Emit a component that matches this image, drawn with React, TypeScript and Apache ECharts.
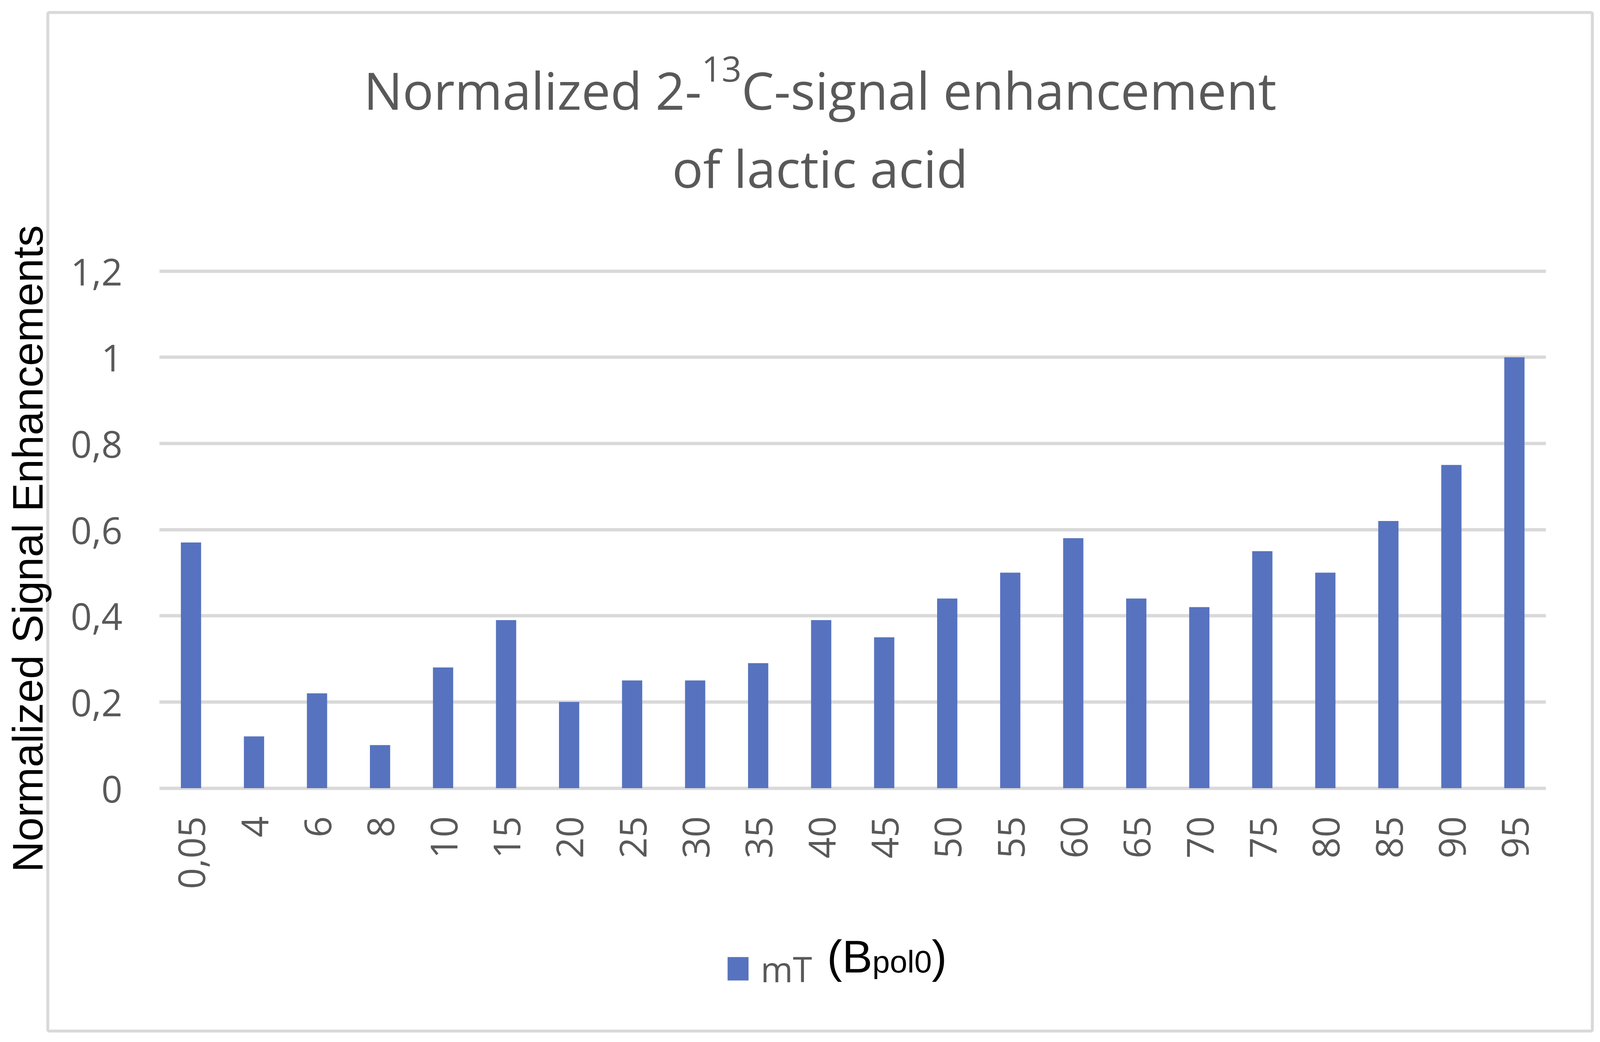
import React, { useEffect, useRef } from 'react';
import * as echarts from 'echarts';

// ---- data ----
const categories = ['0,05', '4', '6', '8', '10', '15', '20', '25', '30', '35', '40', '45', '50', '55', '60', '65', '70', '75', '80', '85', '90', '95'];
const enhancement = [0.57, 0.12, 0.22, 0.10, 0.28, 0.39, 0.20, 0.25, 0.25, 0.29, 0.39, 0.35, 0.44, 0.50, 0.58, 0.44, 0.42, 0.55, 0.50, 0.62, 0.75, 1.0];
const yMin = 0;
const yMax = 1.2;
const yInterval = 0.2;
const seriesName = 'mT';
const titleMain1 = 'Normalized 2-';
const titleSup = '13';
const titleMain2 = 'C-signal enhancement';
const titleLine2 = 'of lactic acid';
const yAxisName = 'Normalized Signal Enhancements';
const legendExtraParts = ['(', 'B', 'pol0', ')'];
const legendExtraSizes = [130, 130, 90, 130];

// ---- styles ----
const GREY_TEXT = '#595959';
const GRID_COLOR = '#d9d9d9';
const BAR_COLOR = '#5773bf';
const SANS = '"Open Sans", sans-serif';
const ARIAL = '"Liberation Sans", Arial, sans-serif';
const REF_W = 4585;
const REF_H = 2668;

function measure(text: string, size: number, family: string): number {
  try {
    const t = new (echarts.graphic as any).Text({ style: { text, fontSize: size, fontFamily: family } });
    return t.getBoundingRect().width;
  } catch (e) {
    return text.length * size * 0.55;
  }
}

export default function App() {
  const ref = useRef<HTMLDivElement>(null);
  const vw = document.documentElement.clientWidth || window.innerWidth || REF_W;
  const vh = document.documentElement.clientHeight || window.innerHeight || REF_H;

  useEffect(() => {
    if (!ref.current) return;
    const chart = echarts.init(ref.current, null, { renderer: 'svg' });
    const sx = vw / REF_W;
    const sy = vh / REF_H;
    const fs = Math.sqrt(sx * sy);
    const px = (n: number) => n * sx;
    const py = (n: number) => n * sy;
    const pf = (n: number) => n * fs;

    // sequential placement of "(Bpol0)" next to the legend
    const extraGraphics: any[] = [];
    let cursor = px(2370);
    const baseline = py(2490);
    legendExtraParts.forEach((part, i) => {
      const size = legendExtraSizes[i] * sx;
      extraGraphics.push({
        type: 'text',
        x: cursor,
        y: baseline - 0.3465 * size,
        style: { text: part, fontFamily: ARIAL, fontSize: size, fill: '#000', align: 'left', verticalAlign: 'middle' },
      });
      cursor += measure(part, size, ARIAL);
    });

    const option: any = {
      animation: false,
      backgroundColor: '#ffffff',
      title: {
        text: `{a|${titleMain1}}{s|${titleSup}}{a|${titleMain2}}\n{a|${titleLine2}}`,
        left: px(2350),
        top: py(130),
        textAlign: 'center',
        padding: 0,
        textStyle: {
          fontWeight: 'normal',
          rich: {
            a: { fontFamily: SANS, fontWeight: 'normal', fontSize: 148 * sx, color: GREY_TEXT, lineHeight: py(200) },
            s: { fontFamily: SANS, fontWeight: 'normal', fontSize: 100 * sx, color: GREY_TEXT, lineHeight: py(126), verticalAlign: 'top' },
          },
        },
      },
      legend: {
        data: [seriesName],
        left: px(2085),
        top: py(2436),
        padding: 0,
        itemWidth: px(60),
        itemHeight: py(60),
        icon: 'rect',
        formatter: (n: string) => `{m|${n}}`,
        textStyle: {
          rich: {
            m: { fontFamily: SANS, fontSize: 100 * sx, color: GREY_TEXT, lineHeight: py(60), padding: [0, 0, 0, px(29)] },
          },
        },
      },
      grid: { left: px(457), right: px(155), top: py(694), bottom: py(650), containLabel: false },
      xAxis: {
        type: 'category',
        data: categories,
        axisLine: { show: false },
        axisTick: { show: false },
        axisLabel: {
          interval: 0,
          rotate: 90,
          margin: py(72),
          fontFamily: SANS,
          fontSize: pf(100),
          color: GREY_TEXT,
        },
      },
      yAxis: {
        type: 'value',
        min: yMin,
        max: yMax,
        interval: yInterval,
        axisLine: { show: false },
        axisTick: { show: false },
        splitLine: { lineStyle: { color: GRID_COLOR, width: py(8.5) } },
        axisLabel: {
          margin: px(106),
          fontFamily: SANS,
          fontSize: pf(100),
          color: GREY_TEXT,
          formatter: (v: number) => String(+v.toFixed(1)).replace('.', ','),
        },
      },
      series: [
        {
          name: seriesName,
          type: 'bar',
          data: enhancement,
          barWidth: px(58),
          itemStyle: { color: BAR_COLOR },
          z: 3,
        },
      ],
      graphic: [
        {
          type: 'rect',
          z: 0,
          shape: { x: px(137), y: py(32), width: px(4426), height: py(2608), r: pf(4) },
          style: { fill: 'transparent', stroke: GRID_COLOR, lineWidth: pf(8) },
        },
        {
          type: 'text',
          z: 10,
          x: px(79),
          y: py(1405),
          rotation: Math.PI / 2,
          style: {
            text: yAxisName,
            fontFamily: ARIAL,
            fontSize: py(110),
            fill: '#000000',
            align: 'center',
            verticalAlign: 'middle',
          },
        },
        ...extraGraphics,
      ],
    };

    chart.setOption(option);
    return () => {
      chart.dispose();
    };
  }, []);

  return (
    <div
      ref={ref}
      style={{ position: 'absolute', left: 0, top: 0, width: vw, height: vh, background: '#fff' }}
    />
  );
}
